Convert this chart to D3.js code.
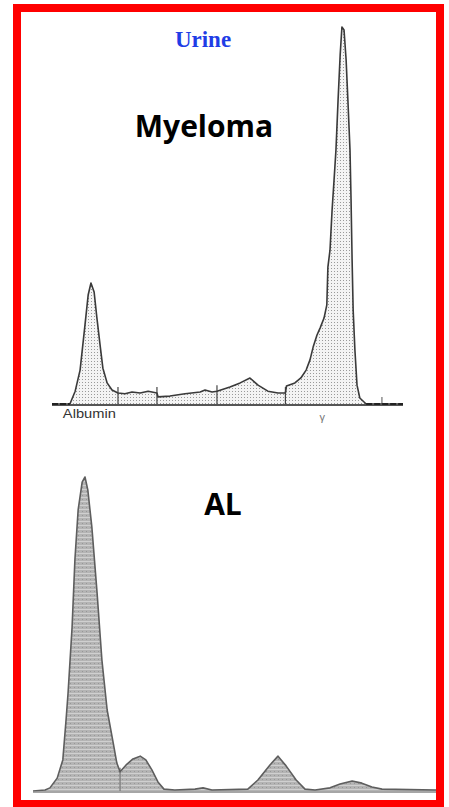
<!DOCTYPE html>
<html>
<head>
<meta charset="utf-8">
<script src="https://cdn.jsdelivr.net/npm/d3@7"></script>
<style>
	html, body { margin: 0; padding: 0; background: #fff; }
	svg { display: block; }
</style>
</head>
<body>
<div id="chart"></div>
<script>
// densitometry scans, mobility (0-100) vs relative intensity (0-100)
var myelomaPos = [0, 5.1, 6.6, 8.0, 9.4, 10.3, 11.1, 12.0, 12.8, 13.7, 14.5, 15.7, 17.1, 18.8, 20.8, 22.8, 25.1, 27.4, 29.9, 30.2,
	33.6, 37.9, 42.2, 43.6, 45.6, 47.0, 50.7, 53.6, 56.4, 58.7, 61.5, 64.4, 66.5, 66.8, 69.2, 70.9, 72.4, 73.5, 74.4, 75.5,
	76.4, 77.5, 78.3, 78.6, 79.2, 79.8, 80.3, 80.9, 81.5, 82.1, 82.6, 83.2, 83.8, 84.3, 84.9, 85.2, 85.5, 85.8, 86.3, 86.9,
	87.7, 89.5, 100];
var myelomaVal = [0, 0, 3.4, 9.0, 21.0, 28.9, 32.1, 29.7, 22.8, 15.6, 9.5, 5.6, 3.7, 2.9, 2.7, 3.2, 2.9, 3.4, 2.9, 1.9,
	2.1, 2.7, 3.2, 3.7, 3.2, 3.4, 4.5, 5.6, 6.9, 5.0, 3.4, 2.9, 2.9, 4.8, 5.6, 6.9, 9.0, 11.7, 15.1, 18.3,
	20.2, 22.8, 26.3, 36.3, 40.8, 51.5, 58.6, 67.4, 80.6, 92.6, 100, 99.2, 91.2, 80.6, 67.4, 54.1, 38.2, 24.9, 14.3, 5.0,
	1.6, 0, 0];
var myelomaCuts = [18.8, 29.9, 47.0, 66.5];
var myelomaMarks = [94.0];
var myelomaFlat = [[0, 5.1], [89.5, 100]];

var alPos = [0, 3.0, 4.2, 6.0, 7.4, 8.2, 8.7, 9.7, 10.4, 11.2, 12.2, 12.9, 13.6, 14.6, 15.9, 17.1, 18.4, 19.9, 20.8, 21.6,
	23.1, 24.8, 26.6, 28.0, 29.5, 31.0, 32.5, 35.2, 40.2, 42.2, 44.4, 53.3, 55.8, 58.8, 60.8, 62.8, 65.3, 67.5, 70.0,
	73.7, 76.2, 79.2, 81.6, 84.1, 86.6, 100];
var alVal = [0, 0.3, 1.0, 4.1, 9.9, 22.6, 31.2, 52.2, 73.6, 89.5, 98.4, 100, 95.9, 84.1, 63.1, 41.7, 25.8, 15.3, 8.9, 6.1,
	8.3, 10.2, 11.1, 9.9, 6.7, 2.9, 0.6, 0.3, 0.6, 1.0, 0.3, 0.6, 3.5, 8.3, 11.1, 8.0, 3.5, 0.6, 0.3,
	1.0, 2.2, 3.2, 2.5, 1.3, 0.6, 0.3];
var alCuts = [21.6];

var bandLabels = ["Albumin", "\u03b3"];
var bandPos = [3.1, 77];

var W = 449, H = 807;

var svg = d3.select("#chart").append("svg")
	.attr("width", W)
	.attr("height", H);

var defs = svg.append("defs");

// stippled fill for the upper scan
var dots = defs.append("pattern")
	.attr("id", "dots")
	.attr("width", 3)
	.attr("height", 3)
	.attr("patternUnits", "userSpaceOnUse");
dots.append("rect").attr("width", 3).attr("height", 3).attr("fill", "#f4f4f4");
dots.append("rect").attr("x", 1).attr("y", 1).attr("width", 1).attr("height", 1).attr("fill", "#9a9a9a");

// grainy gray fill for the lower scan
var grain = defs.append("pattern")
	.attr("id", "grain")
	.attr("width", 4)
	.attr("height", 4)
	.attr("patternUnits", "userSpaceOnUse");
grain.append("rect").attr("width", 4).attr("height", 4).attr("fill", "#b4b4b4");
grain.append("rect").attr("y", 1).attr("width", 4).attr("height", 1).attr("fill", "#d0d0d0");
grain.append("rect").attr("x", 2).attr("y", 3).attr("width", 1).attr("height", 1).attr("fill", "#979797");

function zip(p, v) { return p.map((d, i) => [d, v[i]]); }

function valueAt(pos, p, v) {
	var i = d3.bisectLeft(p, pos);
	if (i <= 0) return v[0];
	if (i >= p.length) return v[v.length - 1];
	var t = (pos - p[i - 1]) / (p[i] - p[i - 1]);
	return v[i - 1] + t * (v[i] - v[i - 1]);
}

// ---- upper panel: myeloma ----
var x1 = d3.scaleLinear().domain([0, 100]).range([52, 403]);
var y1 = d3.scaleLinear().domain([0, 100]).range([404, 27]);

var g1 = svg.append("g");
var pts1 = zip(myelomaPos, myelomaVal);

g1.append("path")
	.datum(pts1)
	.attr("fill", "url(#dots)")
	.attr("d", d3.area().x(d => x1(d[0])).y0(y1(0)).y1(d => y1(d[1])));

g1.selectAll(".cut")
	.data(myelomaCuts)
	.enter().append("line")
	.attr("class", "cut")
	.attr("x1", d => x1(d))
	.attr("x2", d => x1(d))
	.attr("y1", y1(0))
	.attr("y2", d => y1(valueAt(d, myelomaPos, myelomaVal)) - 6)
	.attr("stroke", "#444")
	.attr("stroke-width", 1.2);

g1.selectAll(".mark")
	.data(myelomaMarks)
	.enter().append("line")
	.attr("class", "mark")
	.attr("x1", d => x1(d))
	.attr("x2", d => x1(d))
	.attr("y1", y1(0))
	.attr("y2", y1(0) - 7)
	.attr("stroke", "#555")
	.attr("stroke-width", 1);

g1.append("path")
	.datum(pts1)
	.attr("fill", "none")
	.attr("stroke", "#3a3a3a")
	.attr("stroke-width", 1.6)
	.attr("stroke-linejoin", "round")
	.attr("d", d3.line().x(d => x1(d[0])).y(d => y1(d[1])));

g1.append("line")
	.attr("x1", x1(0)).attr("x2", x1(100))
	.attr("y1", y1(0) + 1).attr("y2", y1(0) + 1)
	.attr("stroke", "#555")
	.attr("stroke-width", 1.8);

// darker trace where it runs on the baseline
g1.selectAll(".flat")
	.data(myelomaFlat)
	.enter().append("line")
	.attr("class", "flat")
	.attr("x1", d => x1(d[0])).attr("x2", d => x1(d[1]))
	.attr("y1", y1(0)).attr("y2", y1(0))
	.attr("stroke", "#222")
	.attr("stroke-width", 2.2)
	.attr("stroke-dasharray", "6,2");

g1.selectAll(".band")
	.data(bandLabels)
	.enter().append("text")
	.attr("class", "band")
	.attr("x", (d, i) => x1(bandPos[i]))
	.attr("y", (d, i) => i == 0 ? 418 : 421)
	.attr("font-family", "Liberation Sans, Arial, sans-serif")
	.attr("font-size", (d, i) => i == 0 ? 13 : 11)
	.attr("fill", (d, i) => i == 0 ? "#333" : "#777")
	.attr("text-anchor", (d, i) => i == 0 ? "start" : "middle")
	.each(function(d, i) {
		if (i == 0) d3.select(this).attr("textLength", 53).attr("lengthAdjust", "spacingAndGlyphs");
	})
	.text(d => d);

svg.append("text")
	.attr("x", 203)
	.attr("y", 47)
	.attr("text-anchor", "middle")
	.attr("font-family", "Liberation Serif, serif")
	.attr("font-weight", "bold")
	.attr("font-size", 23)
	.attr("fill", "#1f3de6")
	.text("Urine");

svg.append("text")
	.attr("x", 204)
	.attr("y", 137)
	.attr("text-anchor", "middle")
	.attr("font-family", "Open Sans, sans-serif")
	.attr("font-weight", "bold")
	.attr("font-size", 30)
	.attr("fill", "#000")
	.text("Myeloma");

// ---- lower panel: AL ----
var x2 = d3.scaleLinear().domain([0, 100]).range([33, 436]);
var y2 = d3.scaleLinear().domain([0, 100]).range([791, 477]);

var g2 = svg.append("g");
var pts2 = zip(alPos, alVal);

g2.append("path")
	.datum(pts2)
	.attr("fill", "url(#grain)")
	.attr("d", d3.area().x(d => x2(d[0])).y0(y2(0)).y1(d => y2(d[1])));

g2.selectAll(".cut")
	.data(alCuts)
	.enter().append("line")
	.attr("class", "cut")
	.attr("x1", d => x2(d))
	.attr("x2", d => x2(d))
	.attr("y1", y2(0))
	.attr("y2", d => y2(valueAt(d, alPos, alVal)) - 4)
	.attr("stroke", "#777")
	.attr("stroke-width", 1.2);

g2.append("path")
	.datum(pts2)
	.attr("fill", "none")
	.attr("stroke", "#5e5e5e")
	.attr("stroke-width", 1.6)
	.attr("stroke-linejoin", "round")
	.attr("d", d3.line().x(d => x2(d[0])).y(d => y2(d[1])));

g2.append("line")
	.attr("x1", x2(0)).attr("x2", x2(100))
	.attr("y1", y2(0) + 1).attr("y2", y2(0) + 1)
	.attr("stroke", "#888")
	.attr("stroke-width", 1.5);

svg.append("text")
	.attr("x", 223)
	.attr("y", 515)
	.attr("text-anchor", "middle")
	.attr("font-family", "Open Sans, sans-serif")
	.attr("font-weight", "bold")
	.attr("font-size", 30)
	.attr("fill", "#000")
	.text("AL");

// red frame
svg.append("rect")
	.attr("x", 17)
	.attr("y", 8)
	.attr("width", 423)
	.attr("height", 796)
	.attr("fill", "none")
	.attr("stroke", "#ff0000")
	.attr("stroke-width", 8);
</script>
</body>
</html>
